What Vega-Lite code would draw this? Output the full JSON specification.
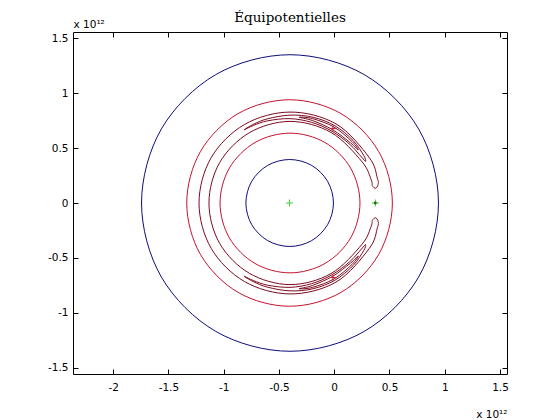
{
  "$schema": "https://vega.github.io/schema/vega-lite/v6.json",
  "width": 434,
  "height": 342,
  "autosize": {"type": "none"},
  "padding": {"left": 73, "top": 32, "right": 53, "bottom": 46},
  "background": "white",
  "title": {"text": "Équipotentielles", "font": "DejaVu Serif", "fontSize": 13.5, "fontWeight": "normal", "color": "black", "anchor": "middle", "offset": 7, "baseline": "alphabetic", "dy": 23},
  "config": {
    "locale": {"number": {"decimal": ".", "thousands": ",", "grouping": [3], "currency": ["$", ""], "minus": "-"}},
    "view": {"stroke": "black", "strokeWidth": 1},
    "axis": {"domain": false, "grid": false, "ticks": true, "tickSize": -5, "tickColor": "black", "tickWidth": 1, "labelFont": "DejaVu Sans", "labelFontSize": 10.5, "labelColor": "black", "titleFont": "DejaVu Sans", "titleFontSize": 10.5, "titleFontWeight": "normal", "titleColor": "black", "format": "~g"}
  },
  "datasets": {
    "contours": [
      {"id": "B1", "c": "blue", "i": 0, "x": 0.943, "y": 0},
      {"id": "B1", "c": "blue", "i": 1, "x": 0.763, "y": 0.675},
      {"id": "B1", "c": "blue", "i": 2, "x": 0.2715, "y": 1.1691},
      {"id": "B1", "c": "blue", "i": 3, "x": -0.4, "y": 1.35},
      {"id": "B1", "c": "blue", "i": 4, "x": -1.0715, "y": 1.1691},
      {"id": "B1", "c": "blue", "i": 5, "x": -1.563, "y": 0.675},
      {"id": "B1", "c": "blue", "i": 6, "x": -1.743, "y": 0},
      {"id": "B1", "c": "blue", "i": 7, "x": -1.563, "y": -0.675},
      {"id": "B1", "c": "blue", "i": 8, "x": -1.0715, "y": -1.1691},
      {"id": "B1", "c": "blue", "i": 9, "x": -0.4, "y": -1.35},
      {"id": "B1", "c": "blue", "i": 10, "x": 0.2715, "y": -1.1691},
      {"id": "B1", "c": "blue", "i": 11, "x": 0.763, "y": -0.675},

      {"id": "B2", "c": "blue", "i": 0, "x": -0.007, "y": 0},
      {"id": "B2", "c": "blue", "i": 1, "x": -0.0601, "y": 0.198},
      {"id": "B2", "c": "blue", "i": 2, "x": -0.205, "y": 0.3429},
      {"id": "B2", "c": "blue", "i": 3, "x": -0.403, "y": 0.396},
      {"id": "B2", "c": "blue", "i": 4, "x": -0.601, "y": 0.3429},
      {"id": "B2", "c": "blue", "i": 5, "x": -0.7459, "y": 0.198},
      {"id": "B2", "c": "blue", "i": 6, "x": -0.799, "y": 0},
      {"id": "B2", "c": "blue", "i": 7, "x": -0.7459, "y": -0.198},
      {"id": "B2", "c": "blue", "i": 8, "x": -0.601, "y": -0.3429},
      {"id": "B2", "c": "blue", "i": 9, "x": -0.403, "y": -0.396},
      {"id": "B2", "c": "blue", "i": 10, "x": -0.205, "y": -0.3429},
      {"id": "B2", "c": "blue", "i": 11, "x": -0.0601, "y": -0.198},

      {"id": "R1", "c": "red", "i": 0, "x": 0.526, "y": 0},
      {"id": "R1", "c": "red", "i": 1, "x": 0.4014, "y": 0.47},
      {"id": "R1", "c": "red", "i": 2, "x": 0.061, "y": 0.8141},
      {"id": "R1", "c": "red", "i": 3, "x": -0.404, "y": 0.94},
      {"id": "R1", "c": "red", "i": 4, "x": -0.869, "y": 0.8141},
      {"id": "R1", "c": "red", "i": 5, "x": -1.2094, "y": 0.47},
      {"id": "R1", "c": "red", "i": 6, "x": -1.334, "y": 0},
      {"id": "R1", "c": "red", "i": 7, "x": -1.2094, "y": -0.47},
      {"id": "R1", "c": "red", "i": 8, "x": -0.869, "y": -0.8141},
      {"id": "R1", "c": "red", "i": 9, "x": -0.404, "y": -0.94},
      {"id": "R1", "c": "red", "i": 10, "x": 0.061, "y": -0.8141},
      {"id": "R1", "c": "red", "i": 11, "x": 0.4014, "y": -0.47},

      {"id": "R2", "c": "red", "i": 0, "x": 0.233, "y": 0},
      {"id": "R2", "c": "red", "i": 1, "x": 0.1482, "y": 0.318},
      {"id": "R2", "c": "red", "i": 2, "x": -0.0835, "y": 0.5508},
      {"id": "R2", "c": "red", "i": 3, "x": -0.4, "y": 0.636},
      {"id": "R2", "c": "red", "i": 4, "x": -0.7165, "y": 0.5508},
      {"id": "R2", "c": "red", "i": 5, "x": -0.9482, "y": 0.318},
      {"id": "R2", "c": "red", "i": 6, "x": -1.033, "y": 0},
      {"id": "R2", "c": "red", "i": 7, "x": -0.9482, "y": -0.318},
      {"id": "R2", "c": "red", "i": 8, "x": -0.7165, "y": -0.5508},
      {"id": "R2", "c": "red", "i": 9, "x": -0.4, "y": -0.636},
      {"id": "R2", "c": "red", "i": 10, "x": -0.0835, "y": -0.5508},
      {"id": "R2", "c": "red", "i": 11, "x": 0.1482, "y": -0.318},

      {"id": "H", "c": "maroon", "i": 0, "x": 0.3745, "y": 0.1338},
      {"id": "H", "c": "maroon", "i": 1, "x": 0.3972, "y": 0.1694},
      {"id": "H", "c": "maroon", "i": 2, "x": 0.3902, "y": 0.2265},
      {"id": "H", "c": "maroon", "i": 3, "x": 0.317, "y": 0.414},
      {"id": "H", "c": "maroon", "i": 4, "x": 0.016, "y": 0.7205},
      {"id": "H", "c": "maroon", "i": 5, "x": -0.4, "y": 0.828},
      {"id": "H", "c": "maroon", "i": 6, "x": -0.8125, "y": 0.7145},
      {"id": "H", "c": "maroon", "i": 7, "x": -1.1136, "y": 0.412},
      {"id": "H", "c": "maroon", "i": 8, "x": -1.223, "y": 0},
      {"id": "H", "c": "maroon", "i": 9, "x": -1.1136, "y": -0.412},
      {"id": "H", "c": "maroon", "i": 10, "x": -0.8125, "y": -0.7145},
      {"id": "H", "c": "maroon", "i": 11, "x": -0.4, "y": -0.828},
      {"id": "H", "c": "maroon", "i": 12, "x": 0.016, "y": -0.7205},
      {"id": "H", "c": "maroon", "i": 13, "x": 0.317, "y": -0.414},
      {"id": "H", "c": "maroon", "i": 14, "x": 0.3902, "y": -0.2265},
      {"id": "H", "c": "maroon", "i": 15, "x": 0.3972, "y": -0.1694},
      {"id": "H", "c": "maroon", "i": 16, "x": 0.3745, "y": -0.1338},
      {"id": "H", "c": "maroon", "i": 17, "x": 0.3453, "y": -0.1584},
      {"id": "H", "c": "maroon", "i": 18, "x": 0.3344, "y": -0.2106},
      {"id": "H", "c": "maroon", "i": 19, "x": 0.2512, "y": -0.376},
      {"id": "H", "c": "maroon", "i": 20, "x": -0.029, "y": -0.6426},
      {"id": "H", "c": "maroon", "i": 21, "x": -0.4, "y": -0.743},
      {"id": "H", "c": "maroon", "i": 22, "x": -0.769, "y": -0.6391},
      {"id": "H", "c": "maroon", "i": 23, "x": -1.0365, "y": -0.3675},
      {"id": "H", "c": "maroon", "i": 24, "x": -1.133, "y": 0},
      {"id": "H", "c": "maroon", "i": 25, "x": -1.0365, "y": 0.3675},
      {"id": "H", "c": "maroon", "i": 26, "x": -0.769, "y": 0.6391},
      {"id": "H", "c": "maroon", "i": 27, "x": -0.4, "y": 0.743},
      {"id": "H", "c": "maroon", "i": 28, "x": -0.029, "y": 0.6426},
      {"id": "H", "c": "maroon", "i": 29, "x": 0.2512, "y": 0.376},
      {"id": "H", "c": "maroon", "i": 30, "x": 0.3344, "y": 0.2106},
      {"id": "H", "c": "maroon", "i": 31, "x": 0.3453, "y": 0.1584},

      {"id": "T1", "c": "maroon", "i": 0, "x": 0.2839, "y": 0.3791},
      {"id": "T1", "c": "maroon", "i": 1, "x": 0.2668, "y": 0.433},
      {"id": "T1", "c": "maroon", "i": 2, "x": 0.1699, "y": 0.5699},
      {"id": "T1", "c": "maroon", "i": 3, "x": 0.006, "y": 0.7032},
      {"id": "T1", "c": "maroon", "i": 4, "x": -0.1909, "y": 0.7805},
      {"id": "T1", "c": "maroon", "i": 5, "x": -0.4, "y": 0.8},
      {"id": "T1", "c": "maroon", "i": 6, "x": -0.6052, "y": 0.766},
      {"id": "T1", "c": "maroon", "i": 7, "x": -0.7334, "y": 0.7151},
      {"id": "T1", "c": "maroon", "i": 8, "x": -0.816, "y": 0.6657},
      {"id": "T1", "c": "maroon", "i": 9, "x": -0.7296, "y": 0.7069},
      {"id": "T1", "c": "maroon", "i": 10, "x": -0.6006, "y": 0.7486},
      {"id": "T1", "c": "maroon", "i": 11, "x": -0.4, "y": 0.768},
      {"id": "T1", "c": "maroon", "i": 12, "x": -0.2033, "y": 0.7341},
      {"id": "T1", "c": "maroon", "i": 13, "x": -0.022, "y": 0.6547},
      {"id": "T1", "c": "maroon", "i": 14, "x": 0.1374, "y": 0.5374},
      {"id": "T1", "c": "maroon", "i": 15, "x": 0.2458, "y": 0.4193},

      {"id": "T2", "c": "maroon", "i": 0, "x": 0.2178, "y": 0.4827},
      {"id": "T2", "c": "maroon", "i": 1, "x": 0.16, "y": 0.56},
      {"id": "T2", "c": "maroon", "i": 2, "x": -0.001, "y": 0.6911},
      {"id": "T2", "c": "maroon", "i": 3, "x": -0.1943, "y": 0.7679},
      {"id": "T2", "c": "maroon", "i": 4, "x": -0.318, "y": 0.7807},
      {"id": "T2", "c": "maroon", "i": 5, "x": -0.1987, "y": 0.7515},
      {"id": "T2", "c": "maroon", "i": 6, "x": -0.0145, "y": 0.6677},
      {"id": "T2", "c": "maroon", "i": 7, "x": 0.1473, "y": 0.5473},

      {"id": "T3", "c": "maroon", "i": 0, "x": 0.2839, "y": -0.3791},
      {"id": "T3", "c": "maroon", "i": 1, "x": 0.2668, "y": -0.433},
      {"id": "T3", "c": "maroon", "i": 2, "x": 0.1699, "y": -0.5699},
      {"id": "T3", "c": "maroon", "i": 3, "x": 0.006, "y": -0.7032},
      {"id": "T3", "c": "maroon", "i": 4, "x": -0.1909, "y": -0.7805},
      {"id": "T3", "c": "maroon", "i": 5, "x": -0.4, "y": -0.8},
      {"id": "T3", "c": "maroon", "i": 6, "x": -0.6052, "y": -0.766},
      {"id": "T3", "c": "maroon", "i": 7, "x": -0.7334, "y": -0.7151},
      {"id": "T3", "c": "maroon", "i": 8, "x": -0.816, "y": -0.6657},
      {"id": "T3", "c": "maroon", "i": 9, "x": -0.7296, "y": -0.7069},
      {"id": "T3", "c": "maroon", "i": 10, "x": -0.6006, "y": -0.7486},
      {"id": "T3", "c": "maroon", "i": 11, "x": -0.4, "y": -0.768},
      {"id": "T3", "c": "maroon", "i": 12, "x": -0.2033, "y": -0.7341},
      {"id": "T3", "c": "maroon", "i": 13, "x": -0.022, "y": -0.6547},
      {"id": "T3", "c": "maroon", "i": 14, "x": 0.1374, "y": -0.5374},
      {"id": "T3", "c": "maroon", "i": 15, "x": 0.2458, "y": -0.4193},

      {"id": "T4", "c": "maroon", "i": 0, "x": 0.2178, "y": -0.4827},
      {"id": "T4", "c": "maroon", "i": 1, "x": 0.16, "y": -0.56},
      {"id": "T4", "c": "maroon", "i": 2, "x": -0.001, "y": -0.6911},
      {"id": "T4", "c": "maroon", "i": 3, "x": -0.1943, "y": -0.7679},
      {"id": "T4", "c": "maroon", "i": 4, "x": -0.318, "y": -0.7807},
      {"id": "T4", "c": "maroon", "i": 5, "x": -0.1987, "y": -0.7515},
      {"id": "T4", "c": "maroon", "i": 6, "x": -0.0145, "y": -0.6677},
      {"id": "T4", "c": "maroon", "i": 7, "x": 0.1473, "y": -0.5473}
    ],
    "green": [
      {"x": -0.405, "y": 0, "c": "g"},
      {"x": 0.372, "y": 0, "c": "g"}
    ],
    "redmarks": [
      {"x": -0.012, "y": 0.679, "c": "r"},
      {"x": -0.012, "y": -0.679, "c": "r"}
    ],
    "dot": [
      {"x": 0.372, "y": 0, "c": "d"}
    ]
  },
  "layer": [
    {
      "data": {"name": "contours"},
      "mark": {"type": "line", "interpolate": "cardinal-closed", "strokeWidth": 1, "clip": true},
      "encoding": {
        "x": {"field": "x", "type": "quantitative", "scale": {"domain": [-2.363, 1.563], "nice": false, "zero": false},
              "axis": {"orient": "bottom", "values": [-2, -1.5, -1, -0.5, 0, 0.5, 1, 1.5], "labelPadding": 13, "title": "x 10¹²", "titleX": 434, "titleY": 43, "titleAlign": "right", "titleBaseline": "alphabetic"}},
        "y": {"field": "y", "type": "quantitative", "scale": {"domain": [-1.557, 1.557], "nice": false, "zero": false},
              "axis": {"orient": "left", "values": [-1.5, -1, -0.5, 0, 0.5, 1, 1.5], "labelPadding": 10, "title": "x 10¹²", "titleAngle": 0, "titleX": 0, "titleY": -5, "titleAlign": "left", "titleBaseline": "alphabetic"}},
        "detail": {"field": "id", "type": "nominal"},
        "order": {"field": "i", "type": "quantitative"},
        "color": {"field": "c", "type": "nominal", "legend": null,
                  "scale": {"domain": ["blue", "red", "maroon", "g", "r", "d"], "range": ["#0d0d7a", "#c4122f", "#7d0a1e", "#3fcf3f", "#d11a3a", "#2d5a18"]}}
      }
    },
    {
      "data": {"name": "green"},
      "mark": {"type": "point", "shape": "M-1,0L1,0M0,-1L0,1", "filled": false, "strokeWidth": 1, "size": 49, "opacity": 1},
      "encoding": {
        "x": {"field": "x", "type": "quantitative", "axis": {"orient": "top", "values": [-2, -1.5, -1, -0.5, 0, 0.5, 1, 1.5], "labels": false, "title": null}},
        "y": {"field": "y", "type": "quantitative", "axis": {"orient": "right", "values": [-1.5, -1, -0.5, 0, 0.5, 1, 1.5], "labels": false, "title": null}},
        "color": {"field": "c", "type": "nominal", "legend": null,
                  "scale": {"domain": ["blue", "red", "maroon", "g", "r", "d"], "range": ["#0d0d7a", "#c4122f", "#7d0a1e", "#3fcf3f", "#d11a3a", "#2d5a18"]}}
      }
    },
    {
      "data": {"name": "redmarks"},
      "mark": {"type": "point", "shape": "M-1,0L1,0M0,-1L0,1", "filled": false, "strokeWidth": 1, "size": 36, "opacity": 1},
      "encoding": {
        "x": {"field": "x", "type": "quantitative", "axis": null},
        "y": {"field": "y", "type": "quantitative", "axis": null},
        "color": {"field": "c", "type": "nominal", "legend": null,
                  "scale": {"domain": ["blue", "red", "maroon", "g", "r", "d"], "range": ["#0d0d7a", "#c4122f", "#7d0a1e", "#3fcf3f", "#d11a3a", "#2d5a18"]}}
      }
    },
    {
      "data": {"name": "dot"},
      "mark": {"type": "point", "shape": "circle", "filled": true, "size": 8, "opacity": 1},
      "encoding": {
        "x": {"field": "x", "type": "quantitative", "axis": null},
        "y": {"field": "y", "type": "quantitative", "axis": null},
        "color": {"field": "c", "type": "nominal", "legend": null,
                  "scale": {"domain": ["blue", "red", "maroon", "g", "r", "d"], "range": ["#0d0d7a", "#c4122f", "#7d0a1e", "#3fcf3f", "#d11a3a", "#2d5a18"]}}
      }
    }
  ],
  "resolve": {"axis": {"x": "independent", "y": "independent"}}
}
